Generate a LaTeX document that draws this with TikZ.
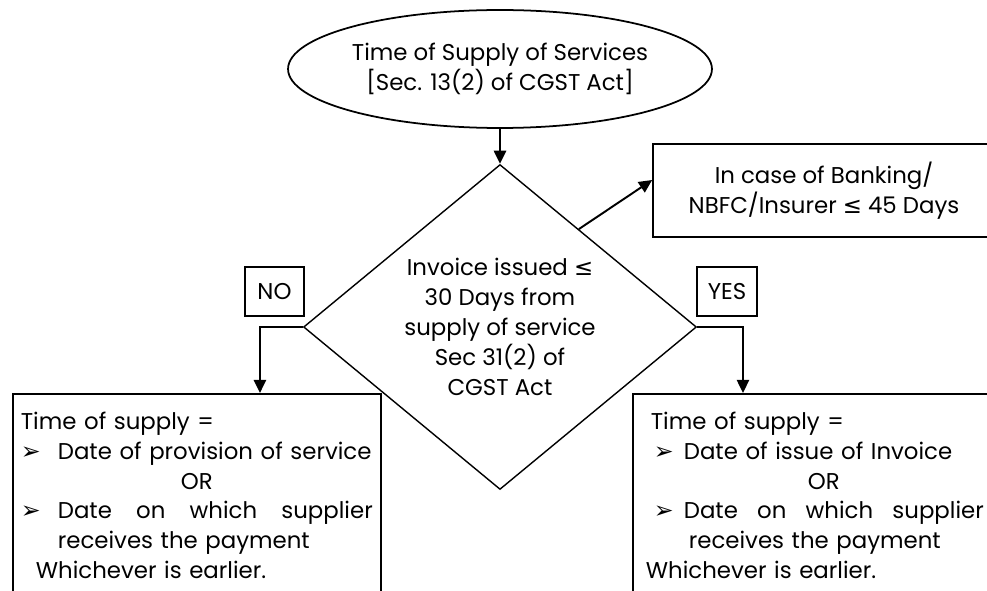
\documentclass[tikz,border=0pt]{standalone}
\usepackage{fontspec}
\setmainfont{Poppins}
\newfontfamily\symfont{DejaVu Sans}
\usepackage{tikz}
\usetikzlibrary{shapes.geometric,arrows.meta,positioning,calc}
\newcommand{\pointer}[1]{\makebox[#1][l]{\symfont\fontsize{13.5}{17}\selectfont ➢}}
\newcommand{\lteq}{{\symfont ≤}}

\begin{document}
\begin{tikzpicture}[x=0.02cm, y=-0.02cm,
    every node/.style={font=\fontsize{13}{17}\selectfont, align=center},
    box/.style={draw, line width=1pt},
    outbox/.style={draw, line width=1pt, anchor=north west, align=left, inner ysep=0.36cm},
    flow/.style={-{Triangle[length=7.5pt,width=7pt]}, line width=1.1pt}]
  \clip (0,0) rectangle (987,591);
  \node[draw, ellipse, line width=1pt, minimum width=8.48cm, minimum height=2.36cm,
        inner sep=0pt] (act) at (500,69)
    {Time of Supply of Services\\{[Sec. 13(2) of CGST Act]}};
  \node[draw, diamond, aspect=1.21, line width=0.8pt, minimum width=7.86cm,
        minimum height=6.5cm, inner sep=0pt] (dec) at (500,327)
    {Invoice issued \lteq\\ 30 Days from\\ supply of service\\ Sec 31(2) of\\ CGST Act};
  \node[box, minimum width=6.84cm, minimum height=1.86cm] (bank) at (824,190.5)
    {In case of Banking/\\ NBFC/Insurer \lteq{} 45 Days};
  \node[box, minimum width=1.18cm, minimum height=0.98cm, inner sep=0pt] (no) at (274.5,291.5) {NO};
  \node[box, minimum width=1.2cm, minimum height=0.98cm, inner sep=0pt] (yes) at (727,291.5) {YES};
  % outcome boxes run past the page edge
  \node[outbox, text width=7.04cm, inner xsep=0.16cm] (lres) at (12,393)
    {Time of supply =\\
     \pointer{0.74cm}Date of provision of service\\
     \makebox[\hsize]{OR}\\
     \pointer{0.74cm}\hbox to 6.3cm{Date\hfill on\hfill which\hfill supplier}\\
     \hspace*{0.74cm}receives the payment\\
     \hspace*{0.3cm}Whichever is earlier.\\[1cm]\mbox{}};
  \node[outbox, text width=7.12cm, inner xsep=0.26cm] (rres) at (632,393)
    {\hspace*{0.1cm}Time of supply =\\
     \hspace*{0.16cm}\pointer{0.6cm}Date of issue of Invoice\\
     \makebox[\hsize]{OR}\\
     \hspace*{0.16cm}\pointer{0.6cm}\hbox to 6cm{Date\hfill on\hfill which\hfill supplier}\\
     \hspace*{0.86cm}receives the payment\\
     Whichever is earlier.\\[1cm]\mbox{}};
  \draw[flow] (act.south) -- (dec.north);
  \draw[flow] ($(dec.north)!0.4!(dec.east)$) -- ([yshift=0.21cm]bank.west);
  \draw[flow] (dec.west) -| ([xshift=4.96cm]lres.north west);
  \draw[flow] (dec.east) -| ([xshift=2.22cm]rres.north west);
\end{tikzpicture}
\end{document}
